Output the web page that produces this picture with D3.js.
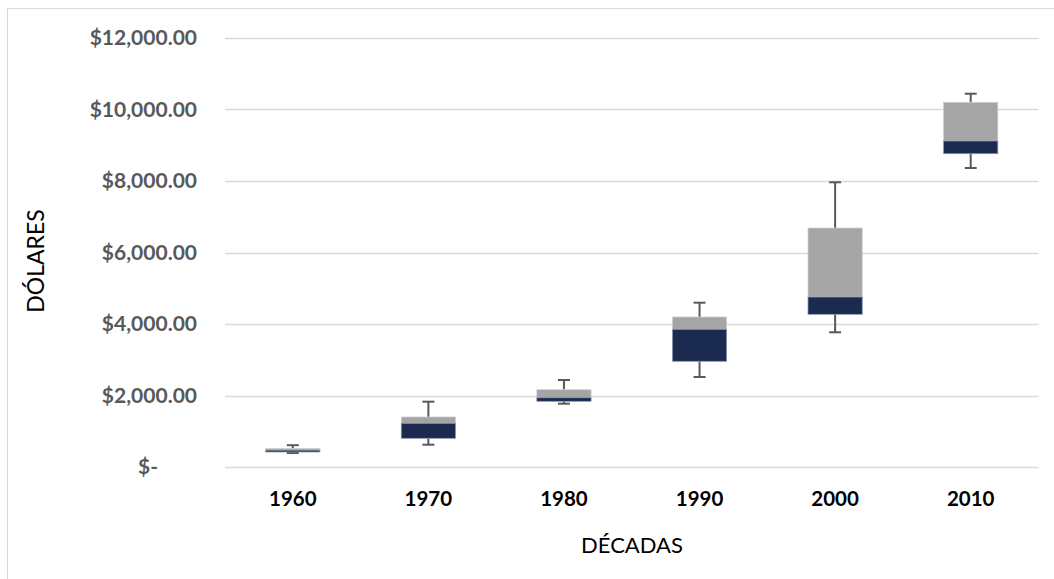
<!DOCTYPE html>
<html>
<head>
<meta charset="utf-8">
<script src="https://cdn.jsdelivr.net/npm/d3@7/dist/d3.min.js"></script>
<style>
  html, body { margin: 0; padding: 0; background: #fff; }
  svg { display: block; }
</style>
</head>
<body>
<svg id="chart" width="1054" height="579"></svg>
<script>
// ---- data ----
const decades = ["1960", "1970", "1980", "1990", "2000", "2010"];
const minVals    = [390, 624, 1771, 2517, 3768, 8364];
const q1Vals     = [420, 803, 1838, 2957, 4271, 8764];
const medianVals = [470, 1222, 1938, 3852, 4755, 9119];
const q3Vals     = [515, 1399, 2162, 4196, 6685, 10201];
const maxVals    = [610, 1827, 2434, 4596, 7964, 10442];
const yTicks = [0, 2000, 4000, 6000, 8000, 10000, 12000];
const xTitle = "DÉCADAS";
const yTitle = "DÓLARES";

const svg = d3.select("#chart");
const W = 1054, H = 579;

// chart border
svg.append("rect")
  .attr("x", 7.5).attr("y", 8.5)
  .attr("width", W + 10).attr("height", H + 10)
  .attr("fill", "none").attr("stroke", "#d9d9d9").attr("stroke-width", 1);

const x = d3.scaleBand().domain(decades).range([225, 1038.5]).paddingInner(0).paddingOuter(0);
const y = d3.scaleLinear().domain([0, 12000]).range([467, 38]);

// gridlines
svg.append("g").selectAll("line").data(yTicks).join("line")
  .attr("x1", 225).attr("x2", 1038.5)
  .attr("y1", d => Math.round(y(d)) + 0.5).attr("y2", d => Math.round(y(d)) + 0.5)
  .attr("stroke", "#d9d9d9").attr("stroke-width", 1.5);

// y axis labels
const fmt = d3.format("$,.2f");
svg.append("g").selectAll("text").data(yTicks).join("text")
  .attr("x", d => d === 0 ? 158 : 197)
  .attr("y", d => y(d) + 7)
  .attr("text-anchor", "end")
  .attr("font-family", "Lato, 'Open Sans', sans-serif")
  .attr("font-weight", "bold")
  .attr("font-size", 21)
  .attr("fill", "#595959")
  .text(d => d === 0 ? "$-" : fmt(d));

// x axis labels
svg.append("g").selectAll("text").data(decades).join("text")
  .attr("x", d => x(d) + x.bandwidth() / 2)
  .attr("y", 506)
  .attr("text-anchor", "middle")
  .attr("font-family", "Lato, 'Open Sans', sans-serif")
  .attr("font-weight", "bold")
  .attr("font-size", 20.5)
  .attr("fill", "#000")
  .text(d => d);

// axis titles
svg.append("text")
  .attr("x", 632).attr("y", 553)
  .attr("text-anchor", "middle")
  .attr("font-family", "Lato, 'Open Sans', sans-serif")
  .attr("font-size", 22)
  .attr("fill", "#000")
  .text(xTitle);

svg.append("text")
  .attr("transform", "translate(44,261) rotate(-90)")
  .attr("text-anchor", "middle")
  .attr("font-family", "Lato, 'Open Sans', sans-serif")
  .attr("font-size", 23)
  .attr("fill", "#000")
  .text(yTitle);

// boxes
const boxW = x.bandwidth() * 0.4;
const capW = 12;
const rows = decades.map((d, i) => ({
  d, min: minVals[i], q1: q1Vals[i], med: medianVals[i], q3: q3Vals[i], max: maxVals[i]
}));

const g = svg.append("g");
const whiskerColor = "#595959";

rows.forEach(r => {
  const cx = x(r.d) + x.bandwidth() / 2;
  // whiskers
  g.append("line").attr("x1", cx).attr("x2", cx).attr("y1", y(r.max)).attr("y2", y(r.q3))
    .attr("stroke", whiskerColor).attr("stroke-width", 2);
  g.append("line").attr("x1", cx).attr("x2", cx).attr("y1", y(r.q1)).attr("y2", y(r.min))
    .attr("stroke", whiskerColor).attr("stroke-width", 2);
  g.append("line").attr("x1", cx - capW / 2).attr("x2", cx + capW / 2).attr("y1", y(r.max)).attr("y2", y(r.max))
    .attr("stroke", whiskerColor).attr("stroke-width", 2);
  g.append("line").attr("x1", cx - capW / 2).attr("x2", cx + capW / 2).attr("y1", y(r.min)).attr("y2", y(r.min))
    .attr("stroke", whiskerColor).attr("stroke-width", 2);
  // upper box (gray)
  g.append("rect")
    .attr("x", cx - boxW / 2).attr("width", boxW)
    .attr("y", y(r.q3)).attr("height", y(r.med) - y(r.q3))
    .attr("fill", "#a5a5a5").attr("stroke", "#cfcfcf").attr("stroke-width", 0.75);
  // lower box (navy)
  g.append("rect")
    .attr("x", cx - boxW / 2).attr("width", boxW)
    .attr("y", y(r.med)).attr("height", y(r.q1) - y(r.med))
    .attr("fill", "#1b2b4f").attr("stroke", "#8a96ad").attr("stroke-width", 0.75);
});
</script>
</body>
</html>
